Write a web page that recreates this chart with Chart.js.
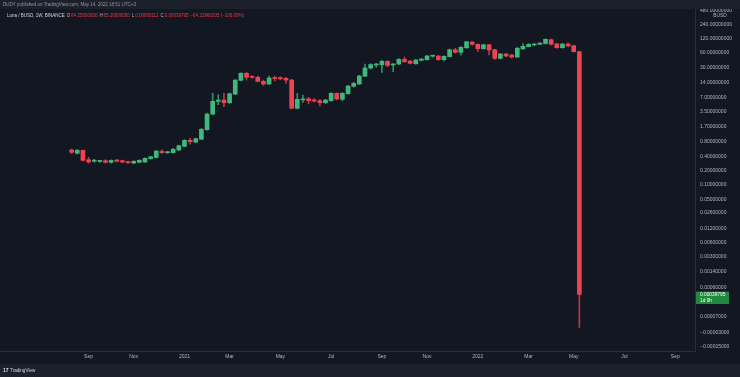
<!DOCTYPE html>
<html>
<head>
<meta charset="utf-8">
<script src="https://cdn.jsdelivr.net/npm/chart.js@4.4.0/dist/chart.umd.min.js"></script>
<style>
html, body { margin: 0; padding: 0; background: #131722; }
#wrap { width: 740px; height: 377px; }
</style>
</head>
<body>
<div id="wrap"><canvas id="chart_luna" width="740" height="377"></canvas></div>
<script>
// DATA
// weekly candles, first one is the week of 2020-08-17, x = week index
const opens = [0.546, 0.465, 0.538, 0.341, 0.318, 0.314, 0.325, 0.300, 0.336, 0.325,
  0.310, 0.290, 0.300, 0.305, 0.360, 0.380, 0.513, 0.480, 0.480, 0.546,
  0.650, 0.873, 0.800, 0.920, 1.46, 3.12, 5.78, 6.15, 5.40, 8.20,
  16.0, 22.5, 19.0, 18.5, 15.2, 13.4, 17.9, 17.9, 17.6, 16.2,
  4.12, 6.20, 6.55, 6.15, 5.95, 5.40, 5.95, 8.52, 6.40, 8.36,
  12.0, 13.4, 19.5, 29.0, 33.6, 34.0, 40.2, 33.6, 35.3, 44.3,
  40.6, 35.8, 42.2, 43.5, 51.5, 52.0, 43.5, 50.5, 70.5, 62.2,
  77.7, 102.4, 91.6, 74.1, 89.9, 70.5, 46.5, 57.3, 54.6, 49.5,
  73.0, 82.0, 88.6, 91.6, 95.0, 114.6, 93.5, 77.7, 93.0, 85.7,
  64.25];
const highs = [0.573, 0.56, 0.546, 0.383, 0.348, 0.33, 0.34, 0.34, 0.345, 0.335,
  0.32, 0.325, 0.34, 0.375, 0.40, 0.53, 0.55, 0.51, 0.59, 0.69,
  0.90, 0.962, 0.97, 1.55, 3.25, 8.52, 7.96, 8.5, 8.6, 16.5,
  23.0, 23.5, 20.0, 19.5, 16.2, 19.7, 19.7, 19.0, 18.5, 16.8,
  8.5, 7.8, 7.0, 6.6, 6.4, 6.4, 8.8, 8.7, 8.8, 12.5,
  14.5, 20.5, 35.0, 36.0, 36.5, 42.0, 41.5, 36.0, 46.0, 49.5,
  42.0, 44.0, 46.0, 53.5, 54.0, 53.5, 52.5, 73.0, 76.0, 82.0,
  106.0, 104.0, 94.0, 92.0, 92.0, 72.0, 59.0, 59.5, 56.0, 79.3,
  95.0, 95.0, 95.0, 99.0, 119.0, 118.0, 96.0, 95.0, 99.0, 88.0,
  65.26];
const lows = [0.456, 0.45, 0.32, 0.29, 0.30, 0.30, 0.29, 0.29, 0.305, 0.295,
  0.285, 0.282, 0.295, 0.30, 0.35, 0.37, 0.46, 0.46, 0.47, 0.53,
  0.64, 0.72, 0.79, 0.90, 1.42, 3.0, 4.9, 4.45, 5.2, 8.0,
  15.5, 16.2, 17.8, 14.8, 12.5, 13.0, 15.6, 16.5, 13.9, 4.0,
  4.0, 5.5, 5.1, 5.6, 4.6, 5.2, 5.8, 6.2, 5.9, 8.2,
  11.5, 13.0, 19.0, 27.5, 30.0, 23.6, 31.0, 24.3, 34.0, 38.5,
  35.5, 34.8, 41.0, 42.5, 49.0, 42.0, 41.0, 49.5, 60.0, 54.0,
  75.0, 88.0, 64.0, 72.0, 54.6, 44.0, 45.0, 50.5, 47.0, 48.5,
  72.0, 80.5, 86.0, 90.0, 93.0, 89.0, 76.0, 76.0, 82.5, 63.0,
  0.00000112];
const closes = [0.488, 0.538, 0.331, 0.305, 0.322, 0.318, 0.300, 0.330, 0.316, 0.305,
  0.295, 0.316, 0.331, 0.365, 0.394, 0.520, 0.479, 0.495, 0.565, 0.672,
  0.873, 0.816, 0.944, 1.49, 3.12, 5.78, 6.15, 5.40, 8.36, 16.2,
  22.5, 18.5, 18.5, 15.2, 13.4, 17.9, 17.4, 17.4, 16.2, 4.12,
  6.37, 6.37, 5.95, 5.87, 5.40, 6.15, 8.52, 6.46, 8.52, 12.1,
  13.8, 19.7, 29.0, 34.4, 35.3, 40.2, 33.1, 35.3, 44.3, 39.4,
  36.5, 42.8, 44.9, 52.0, 52.7, 43.5, 51.2, 70.5, 62.2, 79.3,
  103.9, 91.6, 74.1, 89.9, 69.5, 46.5, 57.3, 52.0, 49.5, 75.5,
  83.2, 91.6, 93.0, 97.6, 116.8, 91.6, 77.7, 93.0, 84.3, 64.22,
  0.00039795];

// time axis: week index of the first bar of each month
const monthTickIndex = [3, 11, 20, 28, 37, 46, 55, 63, 72, 81, 89, 98, 107];
const monthTickText = ['Sep', 'Nov', '2021', 'Mar', 'May', 'Jul', 'Sep', 'Nov', '2022', 'Mar', 'May', 'Jul', 'Sep'];

// price axis
const priceTicks = [480, 240, 120, 60, 30, 14, 7, 3.5, 1.7, 0.8, 0.4, 0.2, 0.1, 0.05, 0.026,
  0.012, 0.006, 0.003, 0.0014, 0.0006, 0.00007, -0.00003, -0.00015];
const priceMin = -0.000212;
const priceMax = 507.7;
const coordOffset = 0.0001;

const headerText = 'DUDY published on TradingView.com, May 14, 2022 18:51 UTC+3';
const legendParts = [
  ['Luna / BUSD, 1W, BINANCE ', '#d1d4dc'],
  ['O', '#b2b5be'], ['64.25000000 ', '#f23645'],
  ['H', '#b2b5be'], ['65.26000000 ', '#f23645'],
  ['L', '#b2b5be'], ['0.00000112 ', '#f23645'],
  ['C', '#b2b5be'], ['0.00039795 ', '#f23645'],
  ['\u221264.21960205 (\u2212100.00%)', '#f23645']
];

// COLORS
const upColor = '#3fb77d';
const downColor = '#ef4351';
const upWick = 'rgba(63,183,125,0.75)';
const downWick = 'rgba(239,67,81,0.75)';
const FONT = 'Liberation Sans';

// SCALE - TradingView style log scale, works around zero
const LinearScale = Chart.registry.getScale('linear');
class PriceLogScale extends LinearScale {
  toT(v) {
    const t = Math.log10(1 + Math.abs(v) / coordOffset);
    return v < 0 ? -t : t;
  }
  fromT(t) {
    const v = coordOffset * (Math.pow(10, Math.abs(t)) - 1);
    return t < 0 ? -v : v;
  }
  determineDataLimits() {
    this.min = priceMin;
    this.max = priceMax;
  }
  buildTicks() {
    return priceTicks.map(v => ({value: v}));
  }
  configure() {
    super.configure();
    this._tStart = this.toT(this.min);
    this._tEnd = this.toT(this.max);
  }
  getPixelForValue(v) {
    if (v === null || v === undefined || isNaN(v)) return NaN;
    return this.getPixelForDecimal((this.toT(v) - this._tStart) / (this._tEnd - this._tStart));
  }
  getValueForPixel(p) {
    return this.fromT(this._tStart + this.getDecimalForPixel(p) * (this._tEnd - this._tStart));
  }
}
PriceLogScale.id = 'pricelog';
PriceLogScale.defaults = {};
Chart.register(PriceLogScale);

// OVERLAY (header, legend, price label, footer)
const overlayPlugin = {
  id: 'tvOverlay',
  beforeDraw(chart) {
    const ctx = chart.ctx;
    ctx.save();
    ctx.fillStyle = '#131722';
    ctx.fillRect(0, 0, chart.width, chart.height);
    ctx.restore();
  },
  afterDraw(chart) {
    const ctx = chart.ctx;
    ctx.save();
    ctx.textBaseline = 'middle';

    // header
    ctx.fillStyle = '#1c202b';
    ctx.fillRect(0, 0, chart.width, 9);
    ctx.fillStyle = '#9598a1';
    ctx.font = '4.5px "' + FONT + '"';
    ctx.fillText(headerText, 3, 4.8);

    // legend
    ctx.font = '4.5px "' + FONT + '"';
    let x = 7;
    legendParts.forEach(function(p) {
      ctx.fillStyle = p[1];
      ctx.fillText(p[0], x, 15.5);
      x += ctx.measureText(p[0]).width + 0.8;
    });

    // unit label
    ctx.fillStyle = '#131722';
    ctx.fillRect(697, 12.4, 42, 5.6);
    ctx.fillStyle = '#b2b5be';
    ctx.font = '4.8px "' + FONT + '"';
    ctx.textAlign = 'center';
    ctx.fillText('BUSD', 720, 15.2);

    // last price label
    const yLast = chart.scales.y.getPixelForValue(closes[closes.length - 1]);
    ctx.fillStyle = '#1f8a3d';
    ctx.fillRect(696, yLast - 2.8, 33, 12.4);
    ctx.fillStyle = '#ffffff';
    ctx.textAlign = 'left';
    ctx.font = '4.8px "' + FONT + '"';
    ctx.fillText('0.00039795', 700, yLast + 0.6);
    ctx.fillText('1d 9h', 700, yLast + 6);

    // footer
    ctx.fillStyle = '#1c202b';
    ctx.fillRect(0, 364, chart.width, 13);
    ctx.fillStyle = '#d1d4dc';
    ctx.font = 'bold 5px "' + FONT + '"';
    ctx.fillText('17', 3, 370.6);
    ctx.font = '4.6px "' + FONT + '"';
    ctx.fillText('TradingView', 10, 370.6);
    ctx.restore();
  }
};

// CHART
const bodyData = opens.map((o, i) => ({x: i, y: [o, closes[i]]}));
const wickData = lows.map((l, i) => ({x: i, y: [l, highs[i]]}));
const isUp = opens.map((o, i) => closes[i] >= o);

const ctx_luna = document.getElementById('chart_luna');
const chart_luna = new Chart(ctx_luna, {
  type: 'bar',
  data: {
    datasets: [{
      label: 'body',
      data: bodyData,
      backgroundColor: isUp.map(u => u ? upColor : downColor),
      borderWidth: 0,
      barThickness: 4,
      minBarLength: 1,
      grouped: false
    }, {
      label: 'wick',
      data: wickData,
      backgroundColor: isUp.map(u => u ? upWick : downWick),
      borderWidth: 0,
      barThickness: 1,
      minBarLength: 1,
      grouped: false
    }]
  },
  options: {
    responsive: false,
    animation: false,
    layout: {padding: {top: 9, bottom: 13, left: 0, right: 0}},
    plugins: {
      legend: {display: false},
      tooltip: {enabled: false}
    },
    scales: {
      x: {
        type: 'linear',
        offset: false,
        min: -12.7,
        max: 110.5,
        grid: {display: false, drawTicks: false},
        border: {display: true, color: '#2a2e39'},
        afterBuildTicks: function(scale) {
          scale.ticks = monthTickIndex.map(v => ({value: v}));
        },
        afterFit: function(scale) { scale.height = 13; },
        ticks: {
          autoSkip: false,
          maxRotation: 0,
          padding: 3,
          color: '#b2b5be',
          font: {family: FONT, size: 5},
          callback: function(value) {
            return monthTickText[monthTickIndex.indexOf(value)];
          }
        }
      },
      y: {
        type: 'pricelog',
        position: 'right',
        grid: {display: false, drawTicks: false},
        border: {display: true, color: '#2a2e39'},
        afterFit: function(scale) { scale.width = 45; },
        ticks: {
          autoSkip: false,
          padding: 5,
          color: '#b2b5be',
          font: {family: FONT, size: 5},
          callback: function(value) {
            const s = Math.abs(value).toFixed(8);
            return value < 0 ? '\u2212' + s : s;
          }
        }
      }
    }
  },
  plugins: [overlayPlugin]
});
</script>
</body>
</html>
